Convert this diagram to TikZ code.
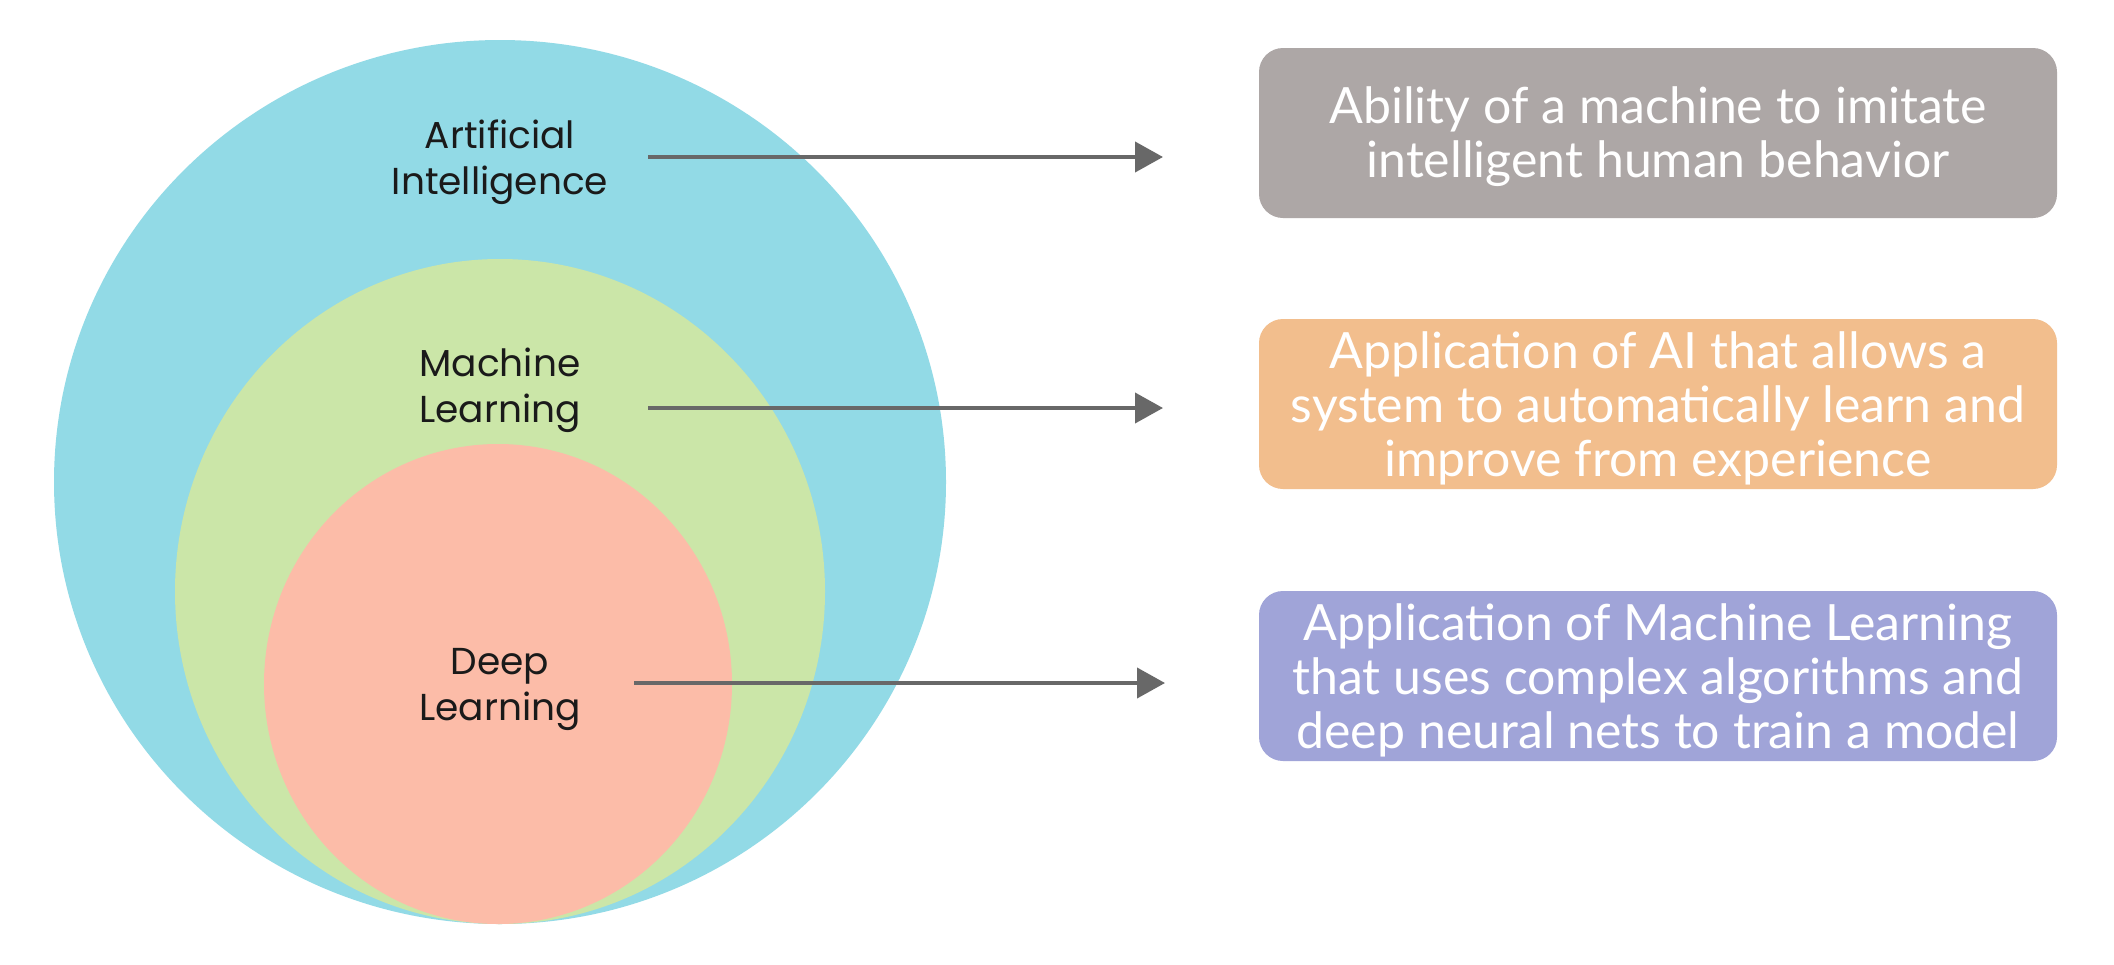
\documentclass[tikz,border=0pt]{standalone}
\usepackage{fontspec}
\setmainfont{Lato}
\newfontfamily\circlefont{Poppins}
\newfontfamily\boxfont{Lato}
\usetikzlibrary{arrows.meta}

\definecolor{aiblue}{RGB}{146,218,230}
\definecolor{mlgreen}{RGB}{203,230,168}
\definecolor{dlsalmon}{RGB}{252,188,168}
\definecolor{boxgray}{RGB}{173,167,166}
\definecolor{boxorange}{RGB}{242,190,141}
\definecolor{boxpurple}{RGB}{160,164,216}
\definecolor{arrowgray}{RGB}{104,104,104}
\definecolor{labelink}{RGB}{26,26,26}

% strut that lowers the first line of a description a little
\newcommand{\firstlinestrut}{\rule{0pt}{45pt}}

\begin{document}
\begin{tikzpicture}[x=1pt,y=-1pt,
  setlabel/.style={font=\circlefont\fontsize{37.5}{46}\selectfont, text=labelink,
    align=center, inner sep=0pt},
  descbox/.style={rounded corners=24pt, minimum width=798pt, minimum height=170pt,
    text=white, align=center, font=\boxfont\fontsize{50}{54}\selectfont, inner sep=0pt},
  pointer/.style={draw=arrowgray, line width=4pt,
    -{Triangle[length=28pt,width=30pt]}}]

\useasboundingbox (0,0) rectangle (2114,964);
\fill[white] (0,0) rectangle (2114,964);

% nested sets, all touching at the bottom
\fill[aiblue]   (500,482)   ellipse [x radius=446, y radius=442];
\fill[mlgreen]  (500,591.5) ellipse [x radius=325, y radius=332.5];
\fill[dlsalmon] (498,684)   ellipse [x radius=234, y radius=240];

% set names
\node[setlabel] (ailabel) at (500,162) {Artificial\\Intelligence};
\node[setlabel] (mllabel) at (500,390) {Machine\\Learning};
\node[setlabel] (dllabel) at (500,689) {Deep\\Learning};

% descriptions
\node[descbox, fill=boxgray]   (aibox) at (1658,133)
  {\firstlinestrut Ability of a machine to imitate\\intelligent human behavior};
\node[descbox, fill=boxorange] (mlbox) at (1658,404)
  {\firstlinestrut Application of AI that allows a\\system to automatically learn and\\improve from experience};
\node[descbox, fill=boxpurple] (dlbox) at (1658,676)
  {\firstlinestrut Application of Machine Learning\\that uses complex algorithms and\\deep neural nets to train a model};

% pointers from each set to its description
\coordinate (aifrom) at (648,157);
\coordinate (aito)   at (1163,157);
\coordinate (mlfrom) at (648,408);
\coordinate (mlto)   at (1163,408);
\coordinate (dlfrom) at (634,683);
\coordinate (dlto)   at (1165,683);
\draw[pointer] (aifrom) -- (aito);
\draw[pointer] (mlfrom) -- (mlto);
\draw[pointer] (dlfrom) -- (dlto);
\end{tikzpicture}
\end{document}
